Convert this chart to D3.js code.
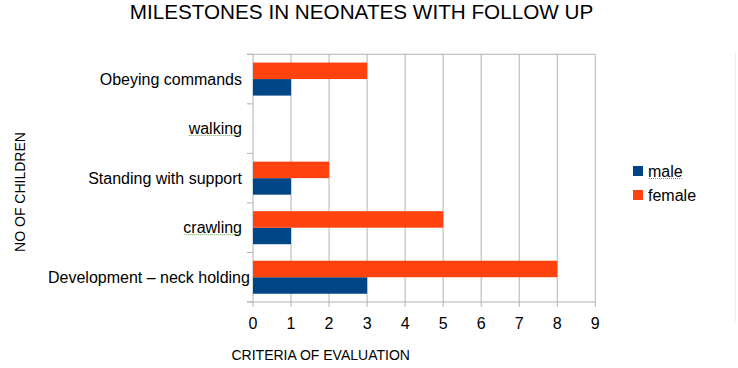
<!DOCTYPE html>
<html>
<head>
<meta charset="utf-8">
<script src="https://cdn.jsdelivr.net/npm/d3@7"></script>
<style>
  body { margin: 0; background: #fff; }
  text { font-family: "Liberation Sans", Arial, sans-serif; fill: #000; }
</style>
</head>
<body>
<svg id="chart" width="738" height="368"></svg>
<script>
var categories = ["Obeying commands", "walking", "Standing with support", "crawling", "Development \u2013 neck holding"];
var maleValues = [1, 0, 1, 1, 3];
var femaleValues = [3, 0, 2, 5, 8];
var seriesNames = ["male", "female"];
var xTickValues = [0, 1, 2, 3, 4, 5, 6, 7, 8, 9];
var squiggled = ["walking", "crawling", "male"];  // words with the spell-check underline

var colors = { male: "#004586", female: "#ff420e" };
var gridColor = "#b3b3b3";

var svg = d3.select("#chart");

// note: "top" is taken by window.top, so plot* names
var plotLeft = 253, plotRight = 595.3, plotTop = 54.3, plotBottom = 302;

var x = d3.scaleLinear()
    .domain([0, 9])
    .range([plotLeft, plotRight]);

var y = d3.scaleBand()
    .domain(categories)
    .range([plotTop, plotBottom])
    .padding(0);

// female on top, male below inside each band
var ySub = d3.scaleBand()
    .domain(["female", "male"])
    .range([0, y.bandwidth()])
    .paddingInner(0)
    .paddingOuter(0.5);

// title
svg.append("text")
    .attr("x", 361.5)
    .attr("y", 18.5)
    .attr("text-anchor", "middle")
    .style("font-size", "20.7px")
    .text("MILESTONES IN NEONATES WITH FOLLOW UP");

// vertical grid lines
svg.append("g")
  .selectAll("line")
    .data(xTickValues)
  .enter().append("line")
    .attr("x1", function(d) { return x(d); })
    .attr("x2", function(d) { return x(d); })
    .attr("y1", plotTop)
    .attr("y2", plotBottom + 5)
    .attr("stroke", gridColor)
    .attr("stroke-width", 1);

// top and bottom horizontal lines
svg.append("g")
  .selectAll("line")
    .data([plotTop, plotBottom])
  .enter().append("line")
    .attr("x1", plotLeft - 6)
    .attr("x2", plotRight)
    .attr("y1", function(d) { return d; })
    .attr("y2", function(d) { return d; })
    .attr("stroke", gridColor);

// category tick marks at band edges
var edges = categories.map(function(c) { return y(c); }).concat([plotBottom]);
svg.append("g")
  .selectAll("line")
    .data(edges)
  .enter().append("line")
    .attr("x1", plotLeft - 6)
    .attr("x2", plotLeft)
    .attr("y1", function(d) { return d; })
    .attr("y2", function(d) { return d; })
    .attr("stroke", gridColor);

// bars
var rows = categories.map(function(c, i) {
  return { cat: c, male: maleValues[i], female: femaleValues[i] };
});

var group = svg.append("g")
  .selectAll("g")
    .data(rows)
  .enter().append("g")
    .attr("transform", function(d) { return "translate(0," + y(d.cat) + ")"; });

group.selectAll("rect")
    .data(function(d) { return seriesNames.map(function(s) { return { key: s, value: d[s] }; }); })
  .enter().append("rect")
    .attr("x", x(0))
    .attr("y", function(d) { return ySub(d.key); })
    .attr("width", function(d) { return x(d.value) - x(0); })
    .attr("height", ySub.bandwidth())
    .attr("fill", function(d) { return colors[d.key]; });

// category labels
var labels = svg.append("g")
  .selectAll("text")
    .data(categories)
  .enter().append("text")
    .attr("x", 242)
    .attr("y", function(d) { return y(d) + y.bandwidth() / 2; })
    .attr("dy", "0.34em")
    .attr("text-anchor", "end")
    .style("font-size", "16px")
    .text(function(d) { return d; });

// long labels run past the axis instead of past the left margin
labels.each(function() {
  var w = this.getComputedTextLength();
  if (242 - w < 48) {
    d3.select(this).attr("text-anchor", "start").attr("x", 48);
  }
});

// x tick labels
svg.append("g")
  .selectAll("text")
    .data(xTickValues)
  .enter().append("text")
    .attr("x", function(d) { return x(d); })
    .attr("y", 328.5)
    .attr("text-anchor", "middle")
    .style("font-size", "16px")
    .text(function(d) { return d; });

// axis titles
svg.append("text")
    .attr("x", 231.5)
    .attr("y", 359.5)
    .style("font-size", "14px")
    .text("CRITERIA OF EVALUATION");

svg.append("text")
    .attr("transform", "translate(25,192) rotate(-90)")
    .attr("text-anchor", "middle")
    .style("font-size", "14px")
    .text("NO OF CHILDREN");

// legend
var legend = svg.append("g")
  .selectAll("g")
    .data(seriesNames)
  .enter().append("g")
    .attr("transform", function(d, i) { return "translate(633," + (166 + i * 24) + ")"; });

legend.append("rect")
    .attr("width", 10)
    .attr("height", 10)
    .attr("fill", function(d) { return colors[d]; });

legend.append("text")
    .attr("x", 15)
    .attr("y", 11)
    .style("font-size", "16px")
    .text(function(d) { return d; });

// spell-check squiggles under some words
svg.selectAll("text").each(function() {
  var t = d3.select(this).text();
  if (squiggled.indexOf(t) < 0) return;
  var b = this.getBBox();
  var node = this.parentNode;
  d3.select(node).append("line")
      .attr("x1", b.x + 1)
      .attr("x2", b.x + b.width - 1)
      .attr("y1", b.y + b.height - 1.5)
      .attr("y2", b.y + b.height - 1.5)
      .attr("stroke", "#6aa84f")
      .attr("stroke-width", 1)
      .attr("stroke-dasharray", "1,1");
});

// faint frame edge on the right
svg.append("line")
    .attr("x1", 735.5)
    .attr("x2", 735.5)
    .attr("y1", 53)
    .attr("y2", 322)
    .attr("stroke", "#eeeeee");
</script>
</body>
</html>
